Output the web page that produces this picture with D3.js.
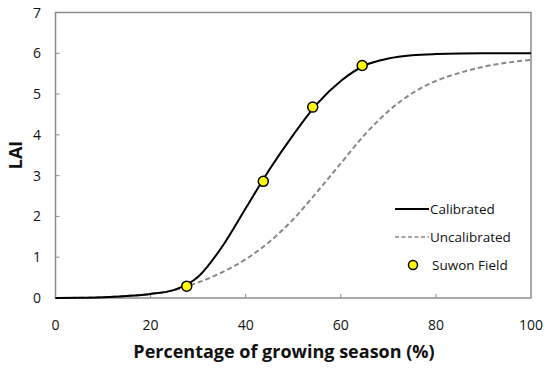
<!DOCTYPE html>
<html>
<head>
<meta charset="utf-8">
<script src="https://cdn.jsdelivr.net/npm/d3@7"></script>
<style>
  body { margin: 0; background: #fff; }
  text { font-family: "Open Sans", "Noto Sans", sans-serif; fill: #111; }
</style>
</head>
<body>
<svg id="chart" width="550" height="370"></svg>
<script>
// values
const calibX = [0, 5, 10, 15, 20, 25, 30, 35, 40, 45, 50, 55, 60, 65, 70, 75, 80, 90, 100];
const calibY = [0, 0.005, 0.02, 0.05, 0.1, 0.2, 0.52, 1.25, 2.2, 3.15, 4.0, 4.76, 5.32, 5.7, 5.87, 5.95, 5.98, 6.0, 6.0];

const uncalX = [0, 5, 10, 15, 20, 25, 30, 35, 40, 45, 50, 55, 60, 65, 70, 75, 80, 85, 90, 95, 100];
const uncalY = [0, 0.005, 0.02, 0.05, 0.1, 0.2, 0.38, 0.63, 0.95, 1.38, 1.93, 2.6, 3.3, 4.0, 4.58, 5.02, 5.32, 5.52, 5.67, 5.77, 5.84];

const fieldX = [27.6, 43.7, 54.1, 64.5];
const fieldY = [0.29, 2.86, 4.68, 5.7];

const xTicks = [0, 20, 40, 60, 80, 100];
const yTicks = [0, 1, 2, 3, 4, 5, 6, 7];

const svg = d3.select("#chart");
const margin = { left: 55.5, right: 19, top: 12.5, bottom: 72 };
const width = 550, height = 370;

const x = d3.scaleLinear().domain([0, 100]).range([margin.left, width - margin.right]);
const y = d3.scaleLinear().domain([0, 7]).range([height - margin.bottom, margin.top]);

const axisColor = "#8c8c8c";

// frame
svg.append("rect")
  .attr("x", x(0)).attr("y", y(7))
  .attr("width", x(100) - x(0)).attr("height", y(0) - y(7))
  .attr("fill", "none").attr("stroke", axisColor).attr("stroke-width", 1.5);

// inward ticks
svg.selectAll("line.xtick")
  .data(xTicks.slice(1, -1))
  .join("line")
  .attr("x1", d => x(d)).attr("x2", d => x(d))
  .attr("y1", y(0)).attr("y2", y(0) - 4)
  .attr("stroke", axisColor).attr("stroke-width", 1);

svg.selectAll("line.ytick")
  .data(yTicks.slice(1, -1))
  .join("line")
  .attr("x1", x(0)).attr("x2", x(0) + 4)
  .attr("y1", d => y(d)).attr("y2", d => y(d))
  .attr("stroke", axisColor).attr("stroke-width", 1);

// tick labels
svg.selectAll("text.xlab")
  .data(xTicks)
  .join("text")
  .attr("x", d => x(d)).attr("y", 330)
  .attr("text-anchor", "middle")
  .style("font-size", "14px")
  .text(d => d);

svg.selectAll("text.ylab")
  .data(yTicks)
  .join("text")
  .attr("x", 41).attr("y", d => y(d) + 5)
  .attr("text-anchor", "end")
  .style("font-size", "14px")
  .text(d => d);

// axis titles
svg.append("text")
  .attr("x", 284).attr("y", 358)
  .attr("text-anchor", "middle")
  .style("font-size", "18px").style("font-weight", "bold")
  .text("Percentage of growing season (%)");

svg.append("text")
  .attr("transform", "translate(22,155) rotate(-90)")
  .attr("text-anchor", "middle")
  .style("font-size", "18px").style("font-weight", "bold")
  .text("LAI");

const line = d3.line()
  .x(d => x(d[0]))
  .y(d => y(d[1]))
  .curve(d3.curveMonotoneX);

svg.append("path")
  .datum(d3.zip(uncalX, uncalY))
  .attr("d", line)
  .attr("fill", "none")
  .attr("stroke", "#888")
  .attr("stroke-width", 2)
  .attr("stroke-dasharray", "5,3");

svg.append("path")
  .datum(d3.zip(calibX, calibY))
  .attr("d", line)
  .attr("fill", "none")
  .attr("stroke", "#000")
  .attr("stroke-width", 2);

svg.selectAll("circle.field")
  .data(d3.zip(fieldX, fieldY))
  .join("circle")
  .attr("cx", d => x(d[0]))
  .attr("cy", d => y(d[1]))
  .attr("r", 5)
  .attr("fill", "#ffff00")
  .attr("stroke", "#000")
  .attr("stroke-width", 1.5);

// legend
const legend = svg.append("g").attr("transform", "translate(395,209)");
legend.append("line")
  .attr("x1", 0).attr("x2", 34).attr("y1", 0).attr("y2", 0)
  .attr("stroke", "#000").attr("stroke-width", 2);
legend.append("line")
  .attr("x1", 0).attr("x2", 34).attr("y1", 28).attr("y2", 28)
  .attr("stroke", "#888").attr("stroke-width", 1.5)
  .attr("stroke-dasharray", "4,2.5");
legend.append("circle")
  .attr("cx", 18).attr("cy", 56).attr("r", 4.5)
  .attr("fill", "#ffff00").attr("stroke", "#000").attr("stroke-width", 1.5);

legend.selectAll("text")
  .data(["Calibrated", "Uncalibrated", "Suwon Field"])
  .join("text")
  .attr("x", d => d === "Suwon Field" ? 37 : 35)
  .attr("y", (d, i) => i * 28 + 5)
  .style("font-size", "13.5px")
  .text(d => d);
</script>
</body>
</html>
